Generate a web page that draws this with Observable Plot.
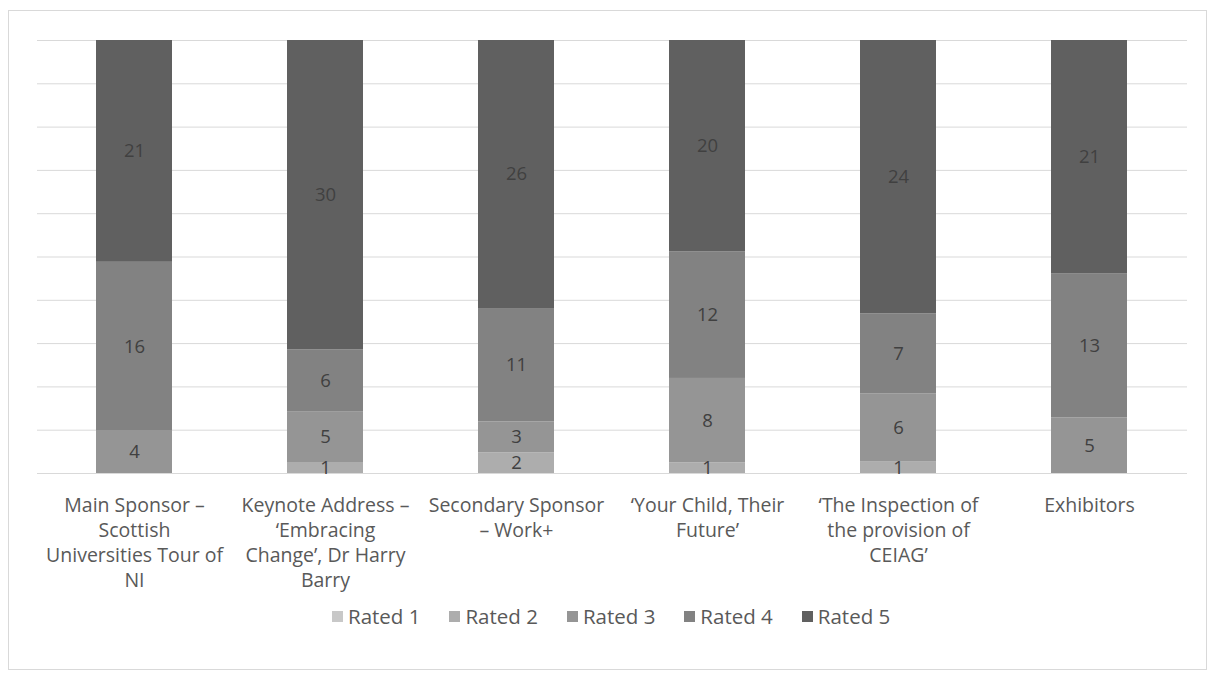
<!DOCTYPE html>
<html>
<head>
<meta charset="utf-8">
<script src="https://cdn.jsdelivr.net/npm/d3@7"></script>
<script src="https://cdn.jsdelivr.net/npm/@observablehq/plot@0.6"></script>
<style>
  html, body { margin: 0; padding: 0; background: #fff; }
  #wrap { position: relative; width: 1216px; height: 680px; overflow: hidden; font-family: "Open Sans", Lato, sans-serif; }
  #frame { position: absolute; left: 8px; top: 10px; width: 1199px; height: 660px; border: 1px solid #d9d9d9; box-sizing: border-box; }
  #chart { position: absolute; left: 0; top: 0; }
  #legend { position: absolute; left: 332px; top: 602px; display: flex; gap: 29px; font-size: 20.5px; color: #595959; }
  #legend .item { display: flex; align-items: center; gap: 5px; }
  #legend .sw { width: 11px; height: 11px; display: inline-block; }
</style>
</head>
<body>
<div id="wrap">
  <div id="frame"></div>
  <div id="chart"></div>
  <div id="legend"></div>
</div>
<script>
const categories = [
  "Main Sponsor – Scottish Universities Tour of NI",
  "Keynote Address – ‘Embracing Change’, Dr Harry Barry",
  "Secondary Sponsor – Work+",
  "‘Your Child, Their Future’",
  "‘The Inspection of the provision of CEIAG’",
  "Exhibitors"
];
const categoryLabels = [
  "Main Sponsor –\nScottish\nUniversities Tour of\nNI",
  "Keynote Address –\n‘Embracing\nChange’, Dr Harry\nBarry",
  "Secondary Sponsor\n– Work+",
  "‘Your Child, Their\nFuture’",
  "‘The Inspection of\nthe provision of\nCEIAG’",
  "Exhibitors"
];
const ratings = ["Rated 1", "Rated 2", "Rated 3", "Rated 4", "Rated 5"];
const rated1 = [0, 0, 0, 0, 0, 0];
const rated2 = [0, 1, 2, 1, 1, 0];
const rated3 = [4, 5, 3, 8, 6, 5];
const rated4 = [16, 6, 11, 12, 7, 13];
const rated5 = [21, 30, 26, 20, 24, 21];
const colors = ["#c8c8c8", "#adadad", "#959595", "#828282", "#606060"];

const series = [rated1, rated2, rated3, rated4, rated5];
const data = [];
ratings.forEach((r, i) => {
  categories.forEach((c, j) => {
    data.push({category: c, rating: r, value: series[i][j]});
  });
});
const labelOf = new Map(categories.map((c, i) => [c, categoryLabels[i]]));

const plot = Plot.plot({
  width: 1216,
  height: 600,
  marginLeft: 37,
  marginRight: 29,
  marginTop: 40,
  marginBottom: 127,
  style: {fontFamily: "'Open Sans', Lato, sans-serif", background: "transparent"},
  x: {domain: categories, paddingInner: 0.6, paddingOuter: 0.3, label: null},
  y: {domain: [0, 1], label: null},
  color: {domain: ratings, range: colors},
  marks: [
    Plot.gridY({ticks: 10, stroke: "#d9d9d9", strokeOpacity: 1, strokeWidth: 1}),
    Plot.barY(data, Plot.stackY({x: "category", y: "value", z: "rating", fill: "rating", offset: "normalize"})),
    Plot.text(data.filter(d => d.value > 0), Plot.stackY({
      x: "category", y: "value", z: "rating", offset: "normalize",
      text: d => String(d.value), fill: "#404040", fontSize: 18.5
    })),
    Plot.axisY({ticks: [], label: null, tickSize: 0}),
    Plot.axisX({
      tickSize: 0, tickPadding: 21, label: null,
      tickFormat: c => labelOf.get(c),
      fontSize: 19.5, fill: "#595959", lineHeight: 1.28, lineWidth: 100
    })
  ]
});
document.getElementById("chart").appendChild(plot);

const legend = document.getElementById("legend");
ratings.forEach((r, i) => {
  const item = document.createElement("div");
  item.className = "item";
  const sw = document.createElement("span");
  sw.className = "sw";
  sw.style.background = colors[i];
  const t = document.createElement("span");
  t.textContent = r;
  item.appendChild(sw);
  item.appendChild(t);
  legend.appendChild(item);
});
</script>
</body>
</html>
